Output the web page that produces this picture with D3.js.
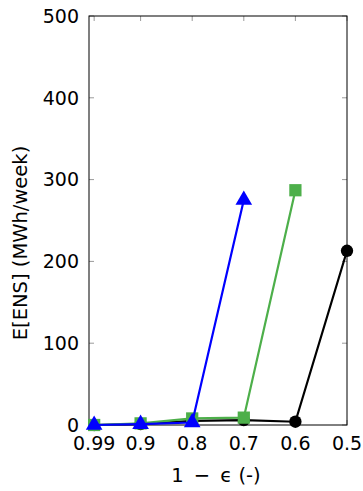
<!DOCTYPE html>
<html>
<head>
<meta charset="utf-8">
<script src="https://cdn.jsdelivr.net/npm/d3@7"></script>
<style>
  body { margin: 0; background: #fff; }
  svg text { font-family: "DejaVu Sans", sans-serif; fill: #000; }
</style>
</head>
<body>
<svg id="chart" width="363" height="491"></svg>
<script>
// x values (1 - epsilon) and E[ENS] per series
const xTicks = [0.99, 0.9, 0.8, 0.7, 0.6, 0.5];
const yTicks = [0, 100, 200, 300, 400, 500];

const blackX = [0.99, 0.9, 0.8, 0.7, 0.6, 0.5];
const blackY = [0, 1, 5, 6, 4, 213];

const greenX = [0.99, 0.9, 0.8, 0.7, 0.6];
const greenY = [0, 2, 8, 9, 287];

const blueX = [0.99, 0.9, 0.8, 0.7];
const blueY = [0, 1, 3, 275];

const margin = { top: 16, right: 16, bottom: 66, left: 89 };
const width = 363 - margin.left - margin.right;
const height = 491 - margin.top - margin.bottom;

const svg = d3.select("#chart");
const g = svg.append("g").attr("transform", `translate(${margin.left},${margin.top})`);

const x = d3.scaleLinear().domain([1, 0.5]).range([0, width]);
const y = d3.scaleLinear().domain([0, 500]).range([height, 0]);

// inner grey ticks on all four sides
const tickLen = 5;
g.selectAll(".tl").data(yTicks).enter().append("line")
    .attr("x1", 0).attr("x2", tickLen)
    .attr("y1", d => y(d)).attr("y2", d => y(d));
g.selectAll(".tr").data(yTicks).enter().append("line")
    .attr("x1", width).attr("x2", width - tickLen)
    .attr("y1", d => y(d)).attr("y2", d => y(d));
g.selectAll(".tb").data(xTicks).enter().append("line")
    .attr("x1", d => x(d)).attr("x2", d => x(d))
    .attr("y1", height).attr("y2", height - tickLen);
g.selectAll(".tt").data(xTicks).enter().append("line")
    .attr("x1", d => x(d)).attr("x2", d => x(d))
    .attr("y1", 0).attr("y2", tickLen);
g.selectAll("line").attr("stroke", "#9a9a9a").attr("stroke-width", 1);

// frame
g.append("rect")
    .attr("width", width).attr("height", height)
    .attr("fill", "none").attr("stroke", "#000").attr("stroke-width", 1);

// tick labels
g.selectAll(".yl").data(yTicks).enter().append("text")
    .attr("x", -10).attr("y", d => y(d)).attr("dy", "0.36em")
    .attr("text-anchor", "end").attr("font-size", 19)
    .text(d => d);
g.selectAll(".xl").data(xTicks).enter().append("text")
    .attr("x", d => x(d)).attr("y", height + 25)
    .attr("text-anchor", "middle").attr("font-size", 19)
    .text(d => d);

// axis titles
g.append("text")
    .attr("x", width / 2 - 2).attr("y", height + 57)
    .attr("text-anchor", "middle").attr("font-size", 19.5)
    .text("1 \u2009−\u2009 ϵ (-)");
svg.append("text")
    .attr("transform", `translate(27,243) rotate(-90)`)
    .attr("text-anchor", "middle").attr("font-size", 19.5)
    .text("E[ENS] (MWh/week)");

const line = d3.line().x(d => x(d[0])).y(d => y(d[1]));

function series(xs, ys, color, marker) {
  const pts = xs.map((v, i) => [v, ys[i]]);
  g.append("path").datum(pts)
      .attr("d", line).attr("fill", "none")
      .attr("stroke", color).attr("stroke-width", 2.2);
  const sym = d3.symbol().type(marker.type).size(marker.size);
  g.selectAll(null).data(pts).enter().append("path")
      .attr("d", sym)
      .attr("transform", d => `translate(${x(d[0])},${y(d[1])})`)
      .attr("fill", color);
}

series(blackX, blackY, "#000000", { type: d3.symbolCircle, size: 120 });
series(greenX, greenY, "#4daf4a", { type: d3.symbolSquare, size: 150 });
series(blueX, blueY, "#0000ff", { type: d3.symbolTriangle, size: 120 });
</script>
</body>
</html>
